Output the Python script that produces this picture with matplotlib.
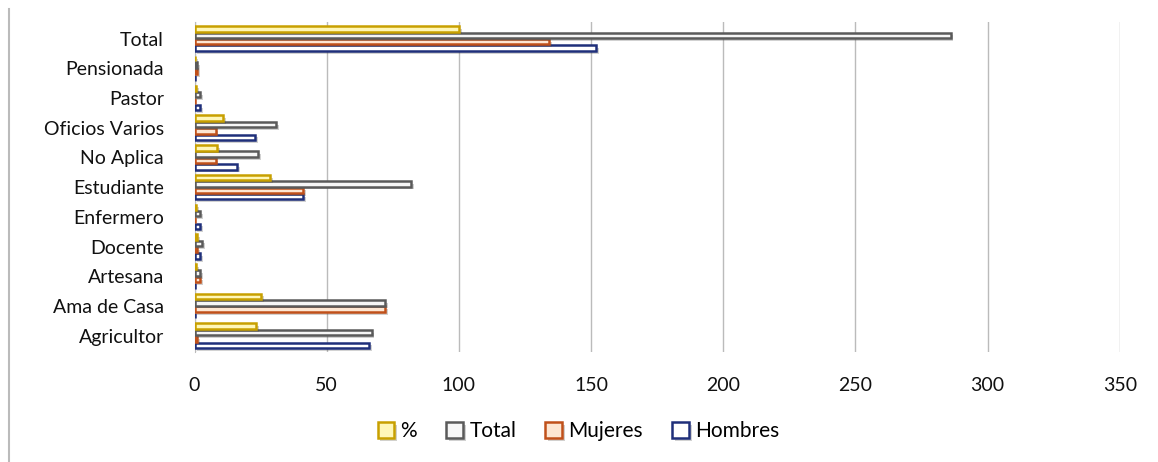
import matplotlib.pyplot as plt
import matplotlib.patheffects as pe
import numpy as np

categories = ['Agricultor', 'Ama de Casa', 'Artesana', 'Docente', 'Enfermero',
              'Estudiante', 'No Aplica', 'Oficios Varios', 'Pastor', 'Pensionada', 'Total']
hombres = [66, 0, 0, 2, 2, 41, 16, 23, 2, 0, 152]
mujeres = [1, 72, 2, 1, 0, 41, 8, 8, 0, 1, 134]
total = [67, 72, 2, 3, 2, 82, 24, 31, 2, 1, 286]
pct = [23.4, 25.2, 0.7, 1.0, 0.7, 28.7, 8.4, 10.8, 0.7, 0.35, 100]

series = [('Hombres', hombres, '#FFFFFF', '#1F2F7A'),
          ('Mujeres', mujeres, '#FDE6D2', '#C0501A'),
          ('Total', total, '#F6F6F6', '#5A5A5A'),
          ('%', pct, '#FFF7B8', '#C8A000')]

plt.rcParams['font.family'] = ['Lato', 'DejaVu Sans']

fig = plt.figure(figsize=(11.58, 4.62), dpi=100)
ax = fig.add_axes([0.168, 0.238, 0.799, 0.714])

y = np.arange(len(categories))
h = 0.215
offsets = [-1.5 * h, -0.5 * h, 0.5 * h, 1.5 * h]
handles = []
for (name, vals, fc, ec), off in zip(series, offsets):
    bars = ax.barh(y + off, vals, height=h * 0.85, color=fc, edgecolor=ec,
                   linewidth=1.8, label=name, zorder=3)
    for b in bars:
        b.set_path_effects([pe.SimplePatchShadow(offset=(2, -2), alpha=0.25), pe.Normal()])
    handles.append(bars)

ax.set_xlim(0, 350)
ax.set_ylim(-0.55, len(categories) - 0.45)
ax.set_xticks(np.arange(0, 351, 50))
ax.set_yticks(y)
ax.set_yticklabels(categories, fontsize=14, color='#111111')
ax.tick_params(axis='x', labelsize=14, length=0, pad=18, labelcolor='#111111')
ax.tick_params(axis='y', length=0, pad=22)
ax.grid(axis='x', color='#BBBBBB', linewidth=1, zorder=0)
for s in ['top', 'right', 'bottom']:
    ax.spines[s].set_visible(False)
ax.spines['left'].set_color('#BBBBBB')

leg = ax.legend(handles[::-1], ['%', 'Total', 'Mujeres', 'Hombres'],
                loc='center', bbox_to_anchor=(0.415, -0.24), ncol=4, frameon=False,
                fontsize=15, handlelength=0.8, handleheight=0.8, handletextpad=0.3,
                columnspacing=1.4)

fig.add_artist(plt.Line2D([0.008, 0.008], [0.0, 0.98], color='#BBBBBB', linewidth=1.5))

fig.savefig('out.png', dpi=100)
